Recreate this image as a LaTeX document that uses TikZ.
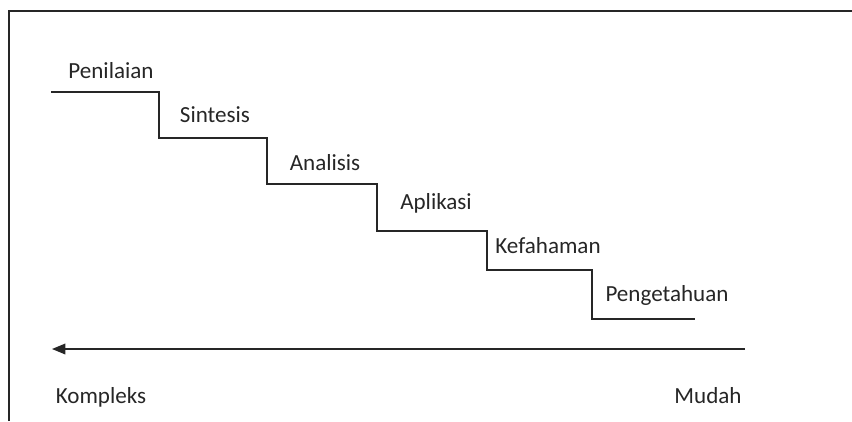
\documentclass[tikz,border=0pt]{standalone}
\usepackage{fontspec}
\setmainfont{Carlito}
\usetikzlibrary{arrows.meta}
\begin{document}
\begin{tikzpicture}[x=0.75pt,y=-0.75pt,
  lbl/.style={font=\fontsize{17.3}{20}\selectfont, inner sep=0pt, text=black!85},
  ln/.style={line width=1pt, black!85}]
\useasboundingbox (0,0) rectangle (852,421);
\draw[ln] (9,421) -- (9,11) -- (852,11);
\coordinate (s0) at (51,92);
\coordinate (s6) at (695,319);
\draw[ln] (s0) -- (159,92) -- (159,138) -- (267,138) -- (267,184) -- (377,184)
  -- (377,231) -- (487,231) -- (487,270) -- (592,270) -- (592,319) -- (s6);
\node[lbl] (pen) at (111,71) {Penilaian};
\node[lbl] (sin) at (215,115) {Sintesis};
\node[lbl] (ana) at (325,163) {Analisis};
\node[lbl] (apl) at (436,203) {Aplikasi};
\node[lbl] (kef) at (548,246) {Kefahaman};
\node[lbl] (pgt) at (667,295) {Pengetahuan};
\node[lbl] (kom) at (101,397) {Kompleks};
\node[lbl] (mud) at (708,396) {Mudah};
\coordinate (ar) at (745,349);
\coordinate (al) at (52,349);
\draw[ln,-{Triangle[length=10pt,width=8pt]}] (ar) -- (al);
\end{tikzpicture}
\end{document}
